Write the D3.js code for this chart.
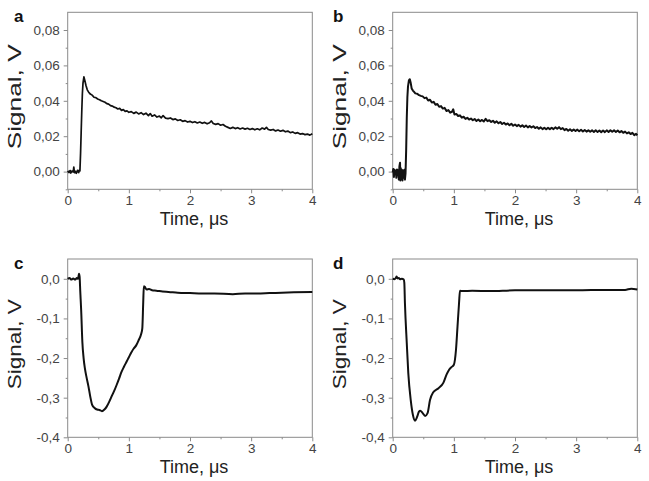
<!DOCTYPE html>
<html><head><meta charset="utf-8">
<script src="https://cdn.jsdelivr.net/npm/d3@7"></script>
<style>
html,body{margin:0;padding:0;background:#fff;}
svg text{font-family:Arial,"Liberation Sans",sans-serif;}
</style></head>
<body><svg id="c" width="649" height="481"></svg>
<script>
// ---- data (time in µs, signal in V) ----
const panelLetters = ["a","b","c","d"];
const xTicks = [0,1,2,3,4];
const xMinorTicks = [0.5,1.5,2.5,3.5];
const yTicksTop = [0,0.02,0.04,0.06,0.08];
const yTickLabelsTop = ["0,00","0,02","0,04","0,06","0,08"];
const yMinorTop = [-0.01,0.01,0.03,0.05,0.07];
const yTicksBottom = [-0.4,-0.3,-0.2,-0.1,0];
const yTickLabelsBottom = ["-0,4","-0,3","-0,2","-0,1","0,0"];
const yMinorBottom = [-0.35,-0.25,-0.15,-0.05];
const xTitle = "Time, \u03bcs";
const yTitle = "Signal, V";

const dataA = [[0,0.0004],[0.02,-0.0005],[0.04,0.0006],[0.05,-0.0008],[0.07,0.0003],[0.09,-0.0002],[0.10,0.0025],[0.11,-0.0006],[0.12,0.0003],[0.14,-0.0010],[0.16,0.0007],[0.18,-0.0006],[0.19,0.0009],[0.20,0.0004],[0.21,0.010],[0.22,0.022],[0.23,0.034],[0.24,0.044],[0.25,0.050],[0.265,0.0535],[0.28,0.0515],[0.30,0.0485],[0.32,0.0462],[0.34,0.0450],[0.37,0.0438],[0.40,0.0432],[0.43,0.0420],[0.46,0.0418],[0.49,0.0410],[0.52,0.0406],[0.55,0.0400],[0.58,0.0396],[0.61,0.0392],[0.64,0.0384],[0.67,0.0381],[0.70,0.0373],[0.73,0.0370],[0.76,0.0364],[0.79,0.0361],[0.82,0.0354],[0.85,0.0357],[0.88,0.0346],[0.91,0.0350],[0.94,0.0340],[0.97,0.0343],[1.00,0.0335],[1.04,0.0339],[1.08,0.0329],[1.12,0.0336],[1.16,0.0326],[1.20,0.0333],[1.24,0.0322],[1.28,0.0330],[1.32,0.0316],[1.35,0.0328],[1.38,0.0313],[1.42,0.0320],[1.46,0.0308],[1.50,0.0314],[1.53,0.0304],[1.56,0.0316],[1.60,0.0302],[1.64,0.0299],[1.68,0.0303],[1.72,0.0294],[1.76,0.0298],[1.80,0.0289],[1.84,0.0293],[1.88,0.0284],[1.92,0.0288],[1.96,0.0280],[2.00,0.0284],[2.04,0.0277],[2.08,0.0282],[2.12,0.0275],[2.16,0.0280],[2.20,0.0273],[2.24,0.0278],[2.28,0.0270],[2.32,0.0276],[2.35,0.0286],[2.38,0.0272],[2.42,0.0267],[2.46,0.0271],[2.50,0.0262],[2.54,0.0266],[2.58,0.0256],[2.62,0.0250],[2.66,0.0244],[2.70,0.0250],[2.74,0.0243],[2.78,0.0248],[2.82,0.0241],[2.86,0.0246],[2.90,0.0240],[2.94,0.0245],[2.98,0.0238],[3.02,0.0243],[3.06,0.0236],[3.10,0.0242],[3.14,0.0236],[3.18,0.0246],[3.22,0.0240],[3.25,0.0250],[3.28,0.0238],[3.32,0.0234],[3.36,0.0238],[3.40,0.0230],[3.44,0.0235],[3.48,0.0228],[3.52,0.0233],[3.56,0.0225],[3.60,0.0229],[3.64,0.0220],[3.68,0.0224],[3.72,0.0216],[3.76,0.0220],[3.80,0.0212],[3.84,0.0215],[3.88,0.0209],[3.92,0.0212],[3.96,0.0206],[4.00,0.0214]];

const dataB = [[0,-0.0005],[0.01,0.0015],[0.02,-0.0030],[0.03,0.0010],[0.04,-0.0015],[0.05,0.0005],[0.06,-0.0035],[0.07,0.0012],[0.08,-0.0020],[0.09,0.0008],[0.10,-0.0045],[0.11,0.0030],[0.12,0.0050],[0.125,-0.0050],[0.13,0.0020],[0.14,-0.0040],[0.15,0.0010],[0.16,-0.0050],[0.17,0.0005],[0.18,-0.0035],[0.19,0.0010],[0.20,-0.0045],[0.21,-0.0010],[0.22,0.012],[0.23,0.030],[0.24,0.042],[0.25,0.048],[0.265,0.0515],[0.28,0.0522],[0.295,0.0500],[0.31,0.0470],[0.33,0.0458],[0.35,0.0450],[0.37,0.0442],[0.40,0.0440],[0.43,0.0432],[0.46,0.0428],[0.49,0.0425],[0.52,0.0415],[0.55,0.0418],[0.58,0.0402],[0.61,0.0406],[0.64,0.0390],[0.67,0.0394],[0.70,0.0378],[0.73,0.0382],[0.76,0.0366],[0.79,0.0370],[0.82,0.0356],[0.85,0.0360],[0.88,0.0342],[0.91,0.0348],[0.94,0.0333],[0.97,0.0338],[0.99,0.0352],[1.01,0.0322],[1.04,0.0326],[1.07,0.0314],[1.10,0.0318],[1.13,0.0305],[1.16,0.0310],[1.19,0.0298],[1.22,0.0304],[1.25,0.0294],[1.28,0.0300],[1.31,0.0290],[1.34,0.0297],[1.37,0.0286],[1.40,0.0294],[1.43,0.0284],[1.46,0.0292],[1.49,0.0283],[1.52,0.0298],[1.55,0.0285],[1.58,0.0290],[1.61,0.0280],[1.64,0.0287],[1.67,0.0276],[1.70,0.0284],[1.73,0.0273],[1.76,0.0280],[1.79,0.0269],[1.82,0.0276],[1.85,0.0266],[1.88,0.0272],[1.91,0.0262],[1.94,0.0270],[1.97,0.0259],[2.00,0.0266],[2.03,0.0257],[2.06,0.0264],[2.09,0.0254],[2.12,0.0262],[2.15,0.0252],[2.18,0.0260],[2.21,0.0250],[2.24,0.0258],[2.27,0.0249],[2.30,0.0256],[2.33,0.0246],[2.36,0.0252],[2.39,0.0242],[2.42,0.0250],[2.45,0.0240],[2.48,0.0248],[2.51,0.0239],[2.54,0.0247],[2.57,0.0240],[2.60,0.0248],[2.63,0.0240],[2.66,0.0250],[2.69,0.0242],[2.72,0.0251],[2.75,0.0240],[2.78,0.0246],[2.81,0.0234],[2.84,0.0241],[2.87,0.0231],[2.90,0.0239],[2.93,0.0230],[2.96,0.0238],[2.99,0.0229],[3.02,0.0237],[3.05,0.0228],[3.08,0.0236],[3.11,0.0227],[3.14,0.0235],[3.17,0.0226],[3.20,0.0234],[3.23,0.0225],[3.26,0.0233],[3.29,0.0224],[3.32,0.0233],[3.35,0.0224],[3.38,0.0232],[3.41,0.0223],[3.44,0.0232],[3.47,0.0223],[3.50,0.0233],[3.53,0.0224],[3.56,0.0234],[3.59,0.0225],[3.62,0.0233],[3.65,0.0224],[3.68,0.0232],[3.71,0.0222],[3.74,0.0229],[3.77,0.0219],[3.80,0.0226],[3.83,0.0216],[3.86,0.0222],[3.89,0.0212],[3.92,0.0219],[3.95,0.0206],[3.98,0.0213],[4.00,0.0205]];

const dataC = [[0,0.000],[0.03,0.002],[0.06,-0.002],[0.09,0.001],[0.12,-0.002],[0.15,0.002],[0.17,0.000],[0.185,0.013],[0.195,0.005],[0.205,-0.030],[0.22,-0.078],[0.24,-0.160],[0.26,-0.200],[0.28,-0.225],[0.31,-0.250],[0.34,-0.272],[0.37,-0.298],[0.40,-0.318],[0.44,-0.326],[0.48,-0.330],[0.52,-0.331],[0.56,-0.334],[0.60,-0.330],[0.64,-0.322],[0.68,-0.310],[0.72,-0.296],[0.76,-0.283],[0.80,-0.268],[0.84,-0.252],[0.88,-0.235],[0.92,-0.222],[0.96,-0.210],[1.00,-0.198],[1.04,-0.186],[1.08,-0.176],[1.12,-0.168],[1.16,-0.155],[1.20,-0.140],[1.22,-0.125],[1.235,-0.060],[1.245,-0.019],[1.26,-0.020],[1.29,-0.027],[1.33,-0.026],[1.38,-0.029],[1.45,-0.030],[1.55,-0.032],[1.65,-0.033],[1.80,-0.035],[2.0,-0.036],[2.2,-0.037],[2.4,-0.037],[2.7,-0.039],[2.9,-0.037],[3.1,-0.037],[3.3,-0.036],[3.5,-0.035],[3.7,-0.034],[4.0,-0.033]];

const dataD = [[0,0.000],[0.03,-0.001],[0.05,0.002],[0.065,0.006],[0.08,0.001],[0.10,0.002],[0.12,-0.001],[0.15,0.000],[0.18,-0.002],[0.19,-0.010],[0.20,-0.061],[0.23,-0.162],[0.255,-0.238],[0.295,-0.306],[0.33,-0.343],[0.365,-0.358],[0.40,-0.348],[0.43,-0.335],[0.45,-0.333],[0.49,-0.339],[0.53,-0.346],[0.57,-0.339],[0.61,-0.306],[0.66,-0.287],[0.75,-0.276],[0.83,-0.262],[0.88,-0.242],[0.92,-0.230],[0.96,-0.223],[1.00,-0.217],[1.035,-0.179],[1.06,-0.120],[1.085,-0.061],[1.10,-0.030],[1.15,-0.031],[1.3,-0.030],[1.6,-0.031],[2.0,-0.029],[2.5,-0.029],[3.0,-0.029],[3.5,-0.028],[3.8,-0.028],[3.9,-0.025],[4.0,-0.027]];

// ---- layout ----
const svg = d3.select("#c");
const panels = [
  {letter:panelLetters[0], data:dataA, ox:0,   top:12.3, bottom:189.3, yDom:[-0.01,0.09], yt:yTicksTop, ytl:yTickLabelsTop, ym:yMinorTop, sw:1.7, curve:d3.curveLinear, ylen:105},
  {letter:panelLetters[1], data:dataB, ox:325, top:12.3, bottom:189.3, yDom:[-0.01,0.09], yt:yTicksTop, ytl:yTickLabelsTop, ym:yMinorTop, sw:2.0, curve:d3.curveLinear, ylen:105},
  {letter:panelLetters[2], data:dataC, ox:0,   top:259,  bottom:437.3, yDom:[-0.4,0.05],  yt:yTicksBottom, ytl:yTickLabelsBottom, ym:yMinorBottom, sw:2.0, curve:d3.curveMonotoneX, ylen:90},
  {letter:panelLetters[3], data:dataD, ox:325, top:259,  bottom:437.3, yDom:[-0.4,0.05],  yt:yTicksBottom, ytl:yTickLabelsBottom, ym:yMinorBottom, sw:2.0, curve:d3.curveMonotoneX, ylen:90}
];
const L = 67.7, R = 312.3;
const axisCol = "#8a8a8a", labelCol = "#444";

panels.forEach(p => {
  const g = svg.append("g").attr("transform", `translate(${p.ox},0)`);
  const x = d3.scaleLinear().domain([0,4]).range([L,R]);
  const y = d3.scaleLinear().domain(p.yDom).range([p.bottom,p.top]);

  const xm = g.append("g").attr("transform",`translate(0,${p.bottom})`)
    .call(d3.axisBottom(x).tickValues(xMinorTicks).tickSize(2).tickFormat(""));
  const ymn = g.append("g").attr("transform",`translate(${L},0)`)
    .call(d3.axisLeft(y).tickValues(p.ym).tickSize(2).tickFormat(""));
  const xa = g.append("g").attr("transform",`translate(0,${p.bottom})`)
    .call(d3.axisBottom(x).tickValues(xTicks).tickSize(4).tickPadding(2).tickFormat(d=>String(d)));
  const ya = g.append("g").attr("transform",`translate(${L},0)`)
    .call(d3.axisLeft(y).tickValues(p.yt).tickSize(4).tickPadding(4).tickFormat((d,i)=>p.ytl[i]));
  [xm,ymn,xa,ya].forEach(a=>{
    a.select(".domain").remove();
    a.selectAll(".tick line").attr("stroke",axisCol).attr("stroke-width",1);
    a.selectAll(".tick text").attr("fill",labelCol).style("font-size","13.5px");
  });

  g.append("rect").attr("x",L).attr("y",p.top).attr("width",R-L).attr("height",p.bottom-p.top)
    .attr("fill","none").attr("stroke",axisCol).attr("stroke-width",1);

  g.append("path").datum(p.data)
    .attr("d", d3.line().x(d=>x(d[0])).y(d=>y(d[1])).curve(p.curve))
    .attr("fill","none").attr("stroke","#111").attr("stroke-width",p.sw)
    .attr("stroke-linejoin","round");

  g.append("text").attr("x",(L+R)/2+4).attr("y",p.bottom+36).attr("text-anchor","middle")
    .attr("fill","#222").style("font-size","18px").text(xTitle);
  const yc = (p.top+p.bottom)/2 - 4;
  g.append("text").attr("transform",`translate(21,${yc}) rotate(-90)`).attr("text-anchor","middle")
    .attr("fill","#222").style("font-size","18.5px")
    .attr("textLength",p.ylen).attr("lengthAdjust","spacingAndGlyphs").text(yTitle);
  g.append("text").attr("x",p.ox===0?14:8).attr("y",p.top+10)
    .attr("fill","#111").style("font-size","17px").style("font-weight","bold").text(p.letter);
});
</script></body></html>
